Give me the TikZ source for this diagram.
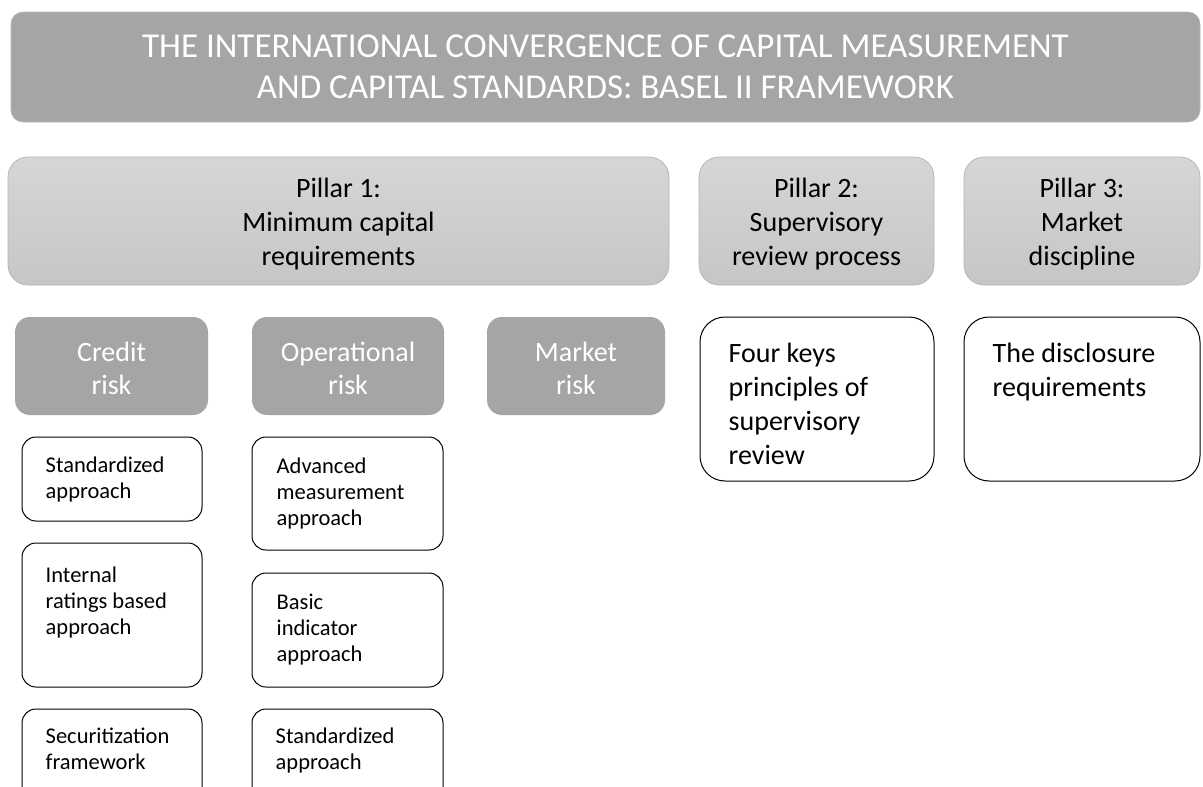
\documentclass[tikz,border=0pt]{standalone}
\usepackage{fontspec}
\setmainfont{Carlito}
\definecolor{darkgrey}{HTML}{A5A5A5}
\definecolor{pilltop}{HTML}{D6D6D6}
\definecolor{pillbot}{HTML}{C6C6C6}
\definecolor{pillborder}{HTML}{B4B4B4}
\newcommand{\bigstrut}{\rule{0pt}{21pt}}
\newcommand{\smallstrut}{\rule{0pt}{17pt}}
\tikzset{
  titlebox/.style={fill=darkgrey, draw=darkgrey!80!white, line width=0.6pt, rounded corners=12pt, inner sep=0pt, text=white, align=center, font=\fontsize{35}{41}\selectfont},
  pillbox/.style={top color=pilltop, bottom color=pillbot, draw=pillborder, line width=0.7pt, rounded corners=20pt, inner sep=0pt},
  pilltext/.style={inner sep=0pt, align=center, font=\fontsize{28}{34}\selectfont},
  riskbox/.style={fill=darkgrey, rounded corners=15pt, inner sep=0pt},
  risktext/.style={inner sep=0pt, text=white, align=center, font=\fontsize{28}{33}\selectfont},
  bigwhite/.style={draw=black, line width=1pt, rounded corners=25pt, inner sep=0pt, fill=white},
  smallwhite/.style={draw=black, line width=1pt, rounded corners=14pt, inner sep=0pt, fill=white},
  bigtext/.style={anchor=north west, inner sep=0pt, align=left, font=\fontsize{28}{34}\selectfont},
  smalltext/.style={anchor=north west, inner sep=0pt, align=left, font=\fontsize{22.5}{26}\selectfont},
}
\begin{document}
\begin{tikzpicture}[x=1pt,y=-1pt]
\useasboundingbox (0,0) rectangle (1203,787);
\clip (0,0) rectangle (1203,787);
\fill[white] (0,0) rectangle (1203,787);

% title
\node[titlebox, minimum width=1189pt, minimum height=110pt] (title) at (605.5,67)
  {THE INTERNATIONAL CONVERGENCE OF CAPITAL MEASUREMENT\\AND CAPITAL STANDARDS: BASEL II FRAMEWORK};

% pillars
\node[pillbox, minimum width=661pt, minimum height=128pt] (p1) at (338.5,221) {};
\node[pilltext] (p1t) at ([shift={(0,3)}]p1.center) {Pillar 1:\\Minimum capital\\requirements};
\node[pillbox, minimum width=235pt, minimum height=128pt] (p2) at (816.5,221) {};
\node[pilltext] (p2t) at ([shift={(0,3)}]p2.center) {Pillar 2:\\Supervisory\\review process};
\node[pillbox, minimum width=236pt, minimum height=128pt] (p3) at (1082,221) {};
\node[pilltext] (p3t) at ([shift={(0,3)}]p3.center) {Pillar 3:\\Market\\discipline};

% risk boxes
\node[riskbox, minimum width=193pt, minimum height=98pt] (credit) at (111.5,366) {};
\node[risktext] (creditt) at ([shift={(0,2.5)}]credit.center) {Credit\\risk};
\node[riskbox, minimum width=192pt, minimum height=98pt] (oper) at (348,366) {};
\node[risktext] (opert) at ([shift={(0,2.5)}]oper.center) {Operational\\risk};
\node[riskbox, minimum width=178pt, minimum height=98pt] (market) at (576,366) {};
\node[risktext] (marktt) at ([shift={(0,2.5)}]market.center) {Market\\risk};

% pillar 2 / 3 white boxes
\node[bigwhite, minimum width=234pt, minimum height=164pt] (p2w) at (817,399) {};
\node[bigtext] (p2wt) at ([shift={(29,25)}]p2w.north west)
  {\bigstrut Four keys\\principles of\\supervisory\\review};
\node[bigwhite, minimum width=236pt, minimum height=164pt] (p3w) at (1082,399) {};
\node[bigtext] (p3wt) at ([shift={(29,25)}]p3w.north west)
  {\bigstrut The disclosure\\requirements};

% credit risk column
\node[smallwhite, minimum width=180pt, minimum height=84pt] (cs) at (112,479) {};
\node[smalltext] (cst) at ([shift={(24,19)}]cs.north west) {\smallstrut Standardized\\approach};
\node[smallwhite, minimum width=180pt, minimum height=144pt] (ci) at (112,615) {};
\node[smalltext] (cit) at ([shift={(24,23)}]ci.north west) {\smallstrut Internal\\ratings based\\approach};
\node[smallwhite, minimum width=180pt, minimum height=101pt] (csec) at (112,759.5) {};
\node[smalltext] (csect) at ([shift={(24,18)}]csec.north west) {\smallstrut Securitization\\framework};

% operational risk column
\node[smallwhite, minimum width=191pt, minimum height=113pt] (oa) at (347.5,493.5) {};
\node[smalltext] (oat) at ([shift={(25,20)}]oa.north west) {\smallstrut Advanced\\measurement\\approach};
\node[smallwhite, minimum width=191pt, minimum height=114pt] (ob) at (347.5,630) {};
\node[smalltext] (obt) at ([shift={(25,20)}]ob.north west) {\smallstrut Basic\\indicator\\approach};
\node[smallwhite, minimum width=191pt, minimum height=101pt] (os) at (347.5,759.5) {};
\node[smalltext] (ost) at ([shift={(24,18)}]os.north west) {\smallstrut Standardized\\approach};
\end{tikzpicture}
\end{document}
